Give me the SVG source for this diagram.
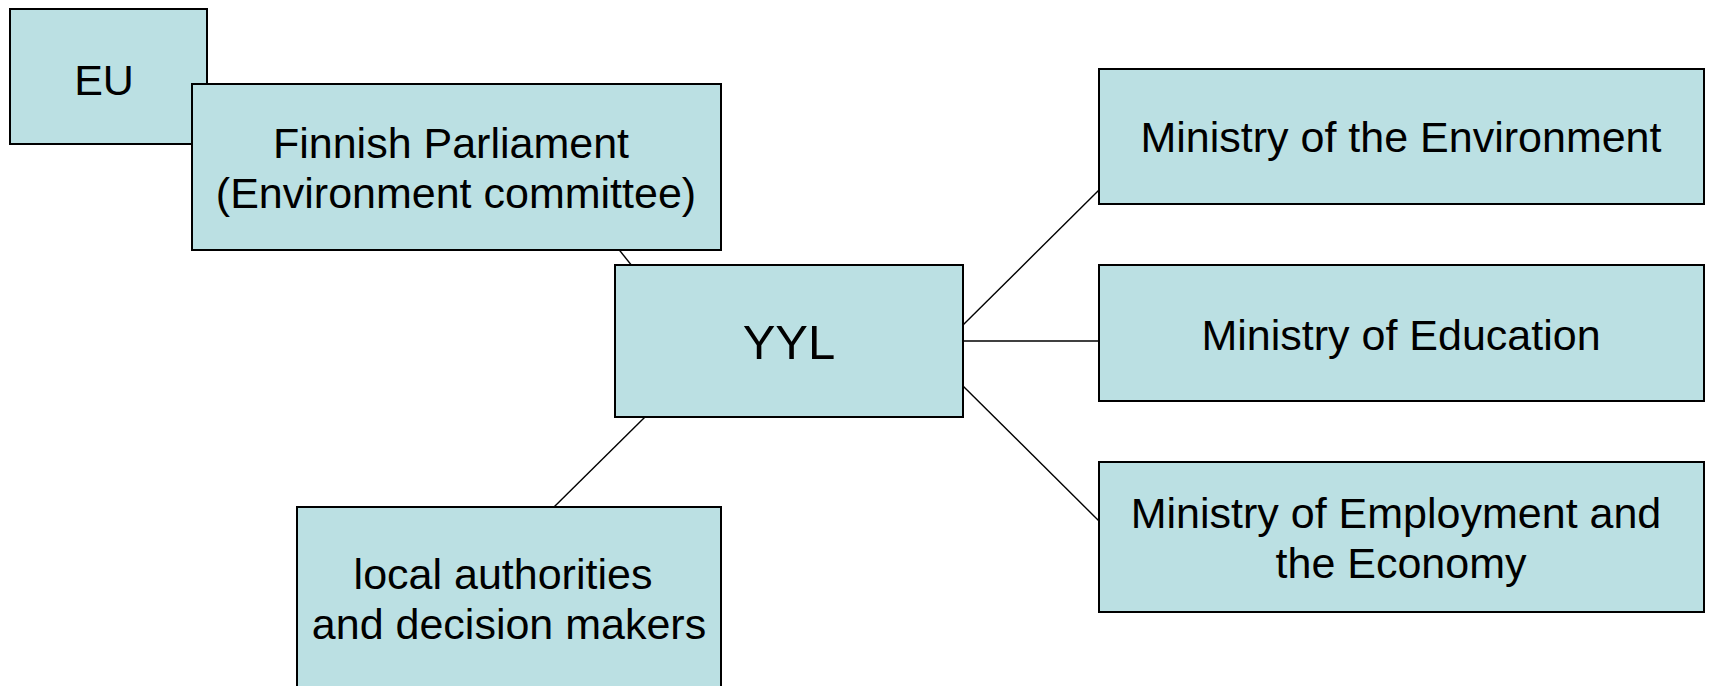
<svg xmlns="http://www.w3.org/2000/svg" width="1709" height="686" viewBox="0 0 1709 686">
<style>
.box{fill:#BBE0E3;stroke:#000;stroke-width:2}
.lbl{font-family:"Liberation Sans",Arial,sans-serif;font-size:43px;fill:#000;text-anchor:middle}
.big{font-size:49px}
.conn line{stroke:#000;stroke-width:1.4}
</style>
<rect width="1709" height="686" fill="#fff"/>
<g id="connectors" class="conn">
<line x1="605" y1="232" x2="640" y2="276"/>
<line x1="963" y1="325" x2="1099" y2="190"/>
<line x1="963" y1="341" x2="1099" y2="341"/>
<line x1="963" y1="386" x2="1099" y2="521"/>
<line x1="645" y1="417" x2="554" y2="507"/>
</g>
<g id="eu">
<rect class="box" x="10" y="9" width="197" height="135"/>
<text class="lbl" x="104" y="95">EU</text>
</g>
<g id="parliament">
<rect class="box" x="192" y="84" width="529" height="166"/>
<text class="lbl" x="451" y="158">Finnish Parliament</text>
<text class="lbl" x="456" y="208">(Environment committee)</text>
</g>
<g id="yyl">
<rect class="box" x="615" y="265" width="348" height="152"/>
<text class="lbl big" x="789" y="359">YYL</text>
</g>
<g id="local">
<rect class="box" x="297" y="507" width="424" height="195"/>
<text class="lbl" x="503" y="589">local authorities</text>
<text class="lbl" x="509" y="639">and decision makers</text>
</g>
<g id="min-env">
<rect class="box" x="1099" y="69" width="605" height="135"/>
<text class="lbl" x="1401" y="152">Ministry of the Environment</text>
</g>
<g id="min-edu">
<rect class="box" x="1099" y="265" width="605" height="136"/>
<text class="lbl" x="1401" y="350">Ministry of Education</text>
</g>
<g id="min-emp">
<rect class="box" x="1099" y="462" width="605" height="150"/>
<text class="lbl" x="1396" y="528">Ministry of Employment and</text>
<text class="lbl" x="1401" y="578">the Economy</text>
</g>
</svg>
